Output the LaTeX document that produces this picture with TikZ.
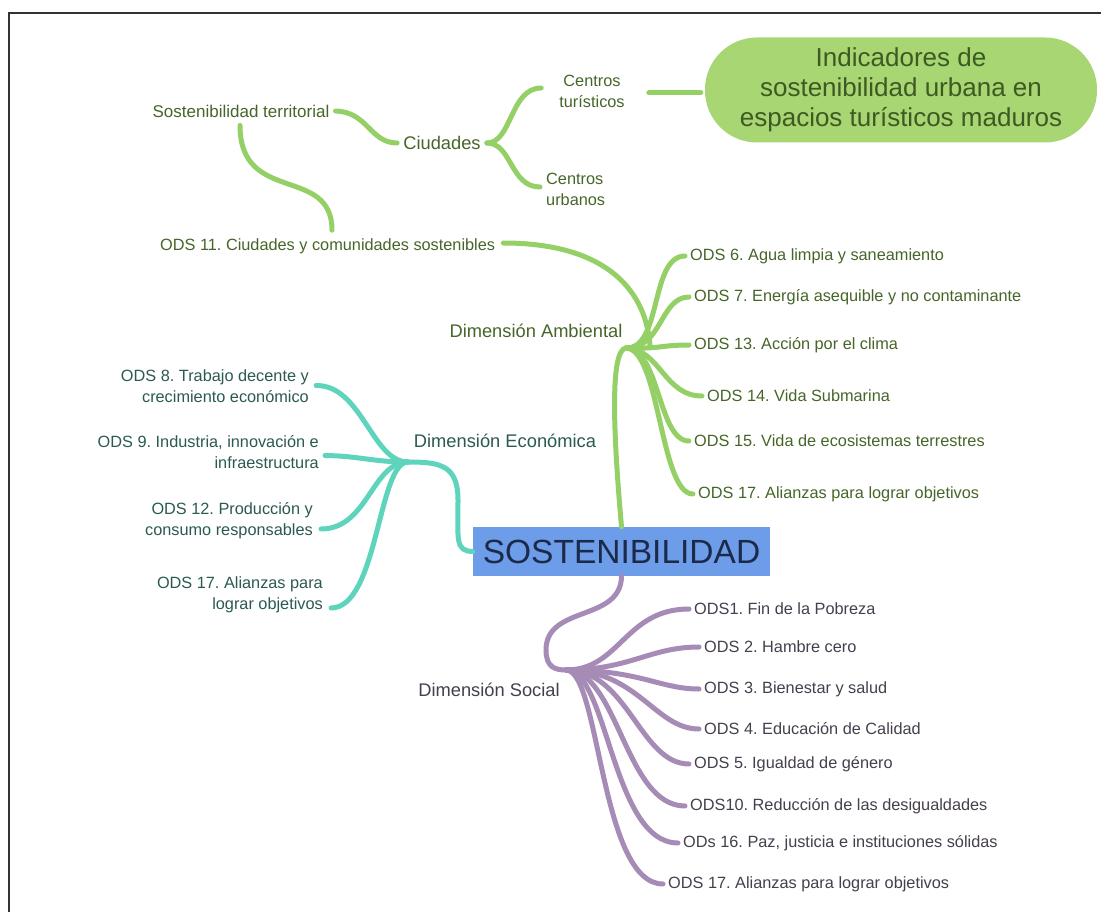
\documentclass[tikz,border=0pt]{standalone}
\usepackage{fontspec}
\setmainfont{Liberation Sans}
\usetikzlibrary{calc}
\definecolor{gline}{HTML}{94D066}
\definecolor{gtext}{HTML}{466629}
\definecolor{pillfill}{HTML}{A8D672}
\definecolor{pilltext}{HTML}{3D5A22}
\definecolor{tline}{HTML}{5FD4BD}
\definecolor{ttext}{HTML}{2B5A52}
\definecolor{pline}{HTML}{A68BB6}
\definecolor{ptext}{HTML}{463F4E}
\definecolor{boxfill}{HTML}{6D9CE8}
\definecolor{boxtext}{HTML}{1C2A4A}
\definecolor{frame}{HTML}{333333}
\frenchspacing
\tikzset{
  lbl/.style={inner sep=0pt, font=\fontsize{16.3}{21}\selectfont},
  dimlbl/.style={inner sep=0pt, font=\fontsize{18.3}{22}\selectfont},
  glbl/.style={lbl, text=gtext},
  tlbl/.style={lbl, text=ttext, align=right, anchor=east},
  plbl/.style={lbl, text=ptext, anchor=west},
  gcon/.style={draw=gline, line width=5pt, line cap=round},
  tcon/.style={draw=tline, line width=5pt, line cap=round},
  pcon/.style={draw=pline, line width=5pt, line cap=round},
}
\begin{document}
\begin{tikzpicture}[x=1pt,y=-1pt]
\useasboundingbox (0,0) rectangle (1101,912);
\fill[white] (0,0) rectangle (1101,912);
\draw[frame, line width=2pt] (9,912) -- (9,13) -- (1101,13);

% ---------- top part ----------
\node[glbl, font=\fontsize{17}{20}\selectfont] (st) at (241,111) {Sostenibilidad territorial};
\node[dimlbl, text=gtext] (ciud) at (442,143) {Ciudades};
\node[glbl, align=center] (ct) at (592,91) {Centros\\turísticos};
\node[glbl, align=left, anchor=west] (cu) at (546,189) {Centros\\urbanos};
\node[fill=pillfill, rounded corners=52pt, minimum width=392pt, minimum height=105pt, inner sep=0pt,
      text=pilltext, align=center, font=\fontsize{26}{30}\selectfont] (pill) at (901,90)
      {Indicadores de\\sostenibilidad urbana en\\espacios turísticos maduros};
\node[glbl, anchor=west] (o11) at (160,246) {ODS 11. Ciudades y comunidades sostenibles};

\draw[gcon] ($(st.east)+(6,0)$) .. controls (368,112) and (370,143) .. ($(ciud.west)+(-6,0)$);
\draw[gcon] ($(st.south)+(-1,8)$) .. controls (240,205) and (332,165) .. ($(o11.north west)+(172,-8)$);
\draw[gcon] ($(ciud.east)+(6,0)$) .. controls (512,143) and (510,88) .. ($(ct.west)+(-18,-3)$);
\draw[gcon] ($(ciud.east)+(6,0)$) .. controls (512,143) and (510,187) .. ($(cu.west)+(-6,-2)$);
\draw[gcon] ($(ct.east)+(24,2)$) -- ($(pill.west)+(-4,3)$);

% ---------- central ----------
\node[fill=boxfill, minimum width=297pt, minimum height=49pt, inner sep=0pt, text=boxtext,
      font=\fontsize{33.5}{36}\selectfont] (core) at (621.5,551.5) {SOSTENIBILIDAD};

% ---------- ambiental ----------
\node[dimlbl, text=gtext] (amb) at (536,331) {Dimensión Ambiental};
\coordinate (gh) at (626,348);
\node[glbl, anchor=west] (g6) at (690,256) {ODS 6. Agua limpia y saneamiento};
\node[glbl, anchor=west] (g7) at (694,297) {ODS 7. Energía asequible y no contaminante};
\node[glbl, anchor=west] (g13) at (694,345) {ODS 13. Acción por el clima};
\node[glbl, anchor=west] (g14) at (707,396) {ODS 14. Vida Submarina};
\node[glbl, anchor=west] (g15) at (694,441) {ODS 15. Vida de ecosistemas terrestres};
\node[glbl, anchor=west] (g17) at (698,494) {ODS 17. Alianzas para lograr objetivos};

\draw[gcon] (core.north) .. controls (613,430) and (610,350) .. (gh);
\draw[gcon] ($(o11.east)+(8,-3)$) .. controls (600,243) and (645,285) .. (650,345);
\draw[gcon] (gh) .. controls (662,349) and (650,256) .. ($(g6.west)+(-5,0)$);
\draw[gcon] (gh) .. controls (662,349) and (660,297) .. ($(g7.west)+(-5,0)$);
\draw[gcon] (gh) .. controls (662,349) and (660,345) .. ($(g13.west)+(-5,0)$);
\draw[gcon] (gh) .. controls (660,349) and (664,396) .. ($(g14.west)+(-5,0)$);
\draw[gcon] (gh) .. controls (660,349) and (658,441) .. ($(g15.west)+(-5,0)$);
\draw[gcon] (gh) .. controls (660,349) and (660,494) .. ($(g17.west)+(-5,0)$);

% ---------- economica ----------
\node[dimlbl, text=ttext] (eco) at (505,441) {Dimensión Económica};
\coordinate (th) at (408,462);
\coordinate (tv) at (458,500);
\node[tlbl] (t8) at (309,386.5) {ODS 8. Trabajo decente y\\crecimiento económico};
\node[tlbl] (t9) at (319,452.5) {ODS 9. Industria, innovación e\\infraestructura};
\node[tlbl] (t12) at (313,521) {ODS 12. Producción y\\consumo responsables};
\node[tlbl] (t17) at (323,595) {ODS 17. Alianzas para\\lograr objetivos};

\draw[tcon] (core.west) .. controls (455,551) and (458,540) .. (tv) .. controls (458,465) and (440,462) .. (th);
\draw[tcon] (th) .. controls (372,462) and (362,385) .. ($(t8.east)+(7,-1)$);
\draw[tcon] (th) .. controls (372,462) and (360,456) .. ($(t9.east)+(6,3)$);
\draw[tcon] (th) .. controls (372,462) and (368,529) .. ($(t12.east)+(8,8)$);
\draw[tcon] (th) .. controls (378,462) and (378,608) .. ($(t17.east)+(8,13)$);

% ---------- social ----------
\node[dimlbl, text=ptext] (soc) at (489,690) {Dimensión Social};
\coordinate (ph) at (566,670);
\coordinate (pv) at (546,650);
\node[plbl] (p1) at (694,609) {ODS1. Fin de la Pobreza};
\node[plbl] (p2) at (704,647) {ODS 2. Hambre cero};
\node[plbl] (p3) at (704,689) {ODS 3. Bienestar y salud};
\node[plbl] (p4) at (704,729) {ODS 4. Educación de Calidad};
\node[plbl] (p5) at (694,764) {ODS 5. Igualdad de género};
\node[plbl] (p10) at (690,806) {ODS10. Reducción de las desigualdades};
\node[plbl] (p16) at (683,843) {ODs 16. Paz, justicia e instituciones sólidas};
\node[plbl] (p17) at (668,884) {ODS 17. Alianzas para lograr objetivos};

\draw[pcon] (core.south) .. controls (621,622) and (546,605) .. (pv) .. controls (546,668) and (556,670) .. (ph);
\draw[pcon] (ph) .. controls (620,670) and (625,609) .. ($(p1.west)+(-5,0)$);
\draw[pcon] (ph) .. controls (630,670) and (650,647) .. ($(p2.west)+(-5,0)$);
\draw[pcon] (ph) .. controls (640,670) and (660,689) .. ($(p3.west)+(-5,0)$);
\draw[pcon] (ph) .. controls (638,670) and (655,729) .. ($(p4.west)+(-5,0)$);
\draw[pcon] (ph) .. controls (628,670) and (640,764) .. ($(p5.west)+(-5,0)$);
\draw[pcon] (ph) .. controls (618,670) and (625,806) .. ($(p10.west)+(-5,0)$);
\draw[pcon] (ph) .. controls (608,670) and (612,843) .. ($(p16.west)+(-5,0)$);
\draw[pcon] (ph) .. controls (600,670) and (600,884) .. ($(p17.west)+(-5,0)$);
\end{tikzpicture}
\end{document}
